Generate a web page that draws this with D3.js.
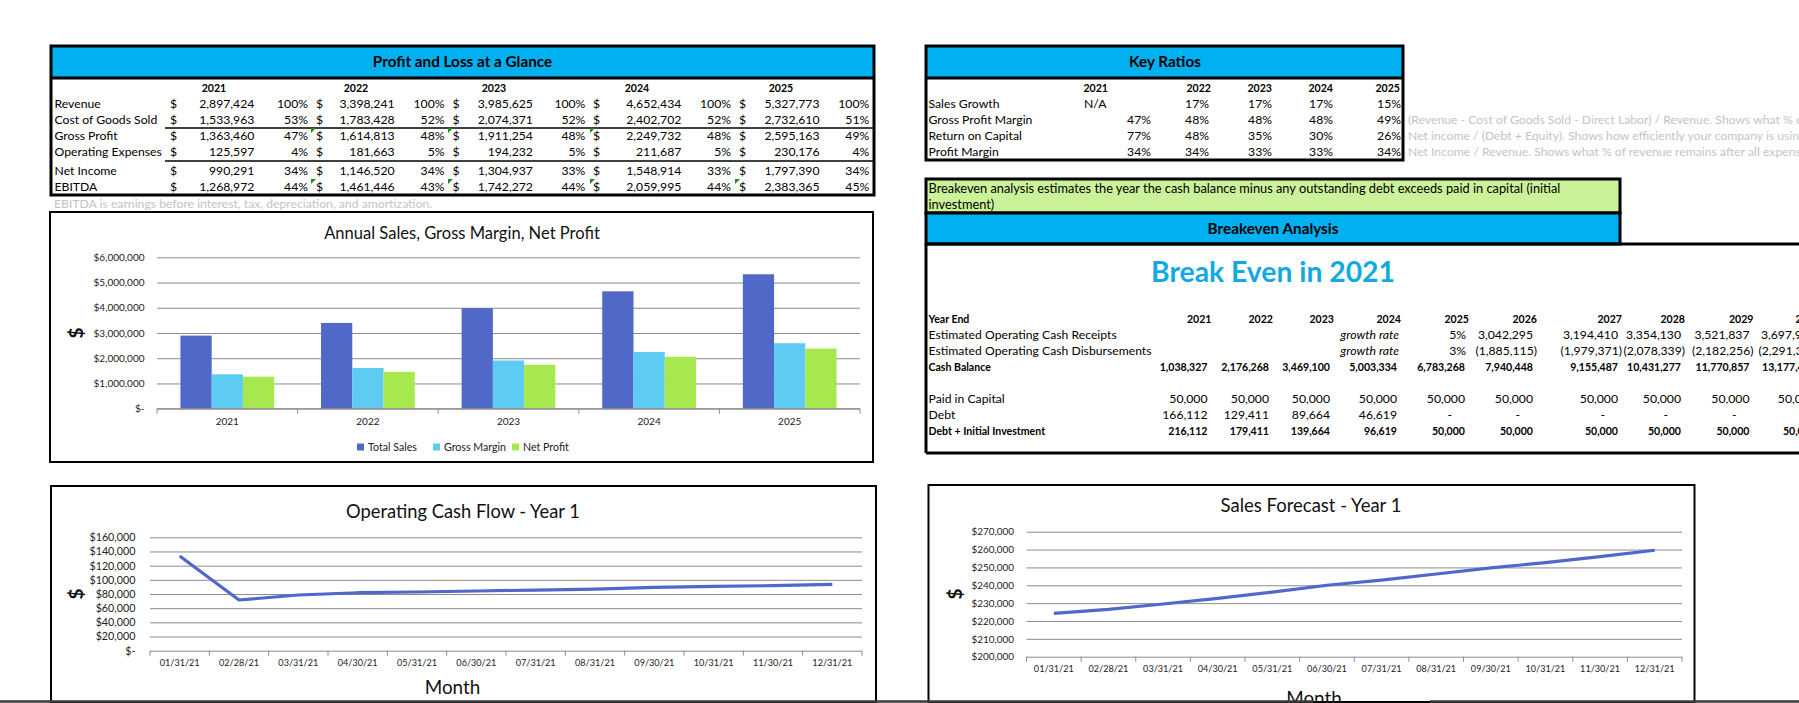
<!DOCTYPE html>
<html><head><meta charset="utf-8">
<script src="https://cdn.jsdelivr.net/npm/d3@7"></script>
<style>
html,body{margin:0;padding:0;background:#fff;overflow:hidden}
svg{display:block}
</style></head><body>
<svg id="c" width="1799" height="703"></svg>
<script>
// ---------------- DATA ----------------
const plYears = ["2021","2022","2023","2024","2025"];
const plLabels = ["Revenue","Cost of Goods Sold","Gross Profit","Operating Expenses","Net Income","EBITDA"];
const revenue     = [2897424, 3398241, 3985625, 4652434, 5327773];
const cogs        = [1533963, 1783428, 2074371, 2402702, 2732610];
const grossProfit = [1363460, 1614813, 1911254, 2249732, 2595163];
const opex        = [125597, 181663, 194232, 211687, 230176];
const netIncome   = [990291, 1146520, 1304937, 1548914, 1797390];
const ebitda      = [1268972, 1461446, 1742272, 2059995, 2383365];
const revenuePct  = [100, 100, 100, 100, 100];
const cogsPct     = [53, 52, 52, 52, 51];
const grossPct    = [47, 48, 48, 48, 49];
const opexPct     = [4, 5, 5, 5, 4];
const netPct      = [34, 34, 33, 33, 34];
const ebitdaPct   = [44, 43, 44, 44, 45];
const ebitdaNote  = "EBITDA is earnings before interest, tax, depreciation, and amortization.";

const ratioYears   = ["2021","2022","2023","2024","2025"];
const ratioLabels  = ["Sales Growth","Gross Profit Margin","Return on Capital","Profit Margin"];
const salesGrowth  = ["N/A","17%","17%","17%","15%"];
const grossMargin  = ["47%","48%","48%","48%","49%"];
const returnOnCap  = ["77%","48%","35%","30%","26%"];
const profitMargin = ["34%","34%","33%","33%","34%"];
const ratioNotes   = ["",
  "(Revenue - Cost of Goods Sold - Direct Labor) / Revenue. Shows what % of revenue remains after direct costs.",
  "Net income / (Debt  + Equity). Shows how efficiently your company is using its capital.",
  "Net Income / Revenue. Shows what % of revenue remains after all expenses."];

const beIntro = ["Breakeven analysis estimates the year the cash balance minus any outstanding debt exceeds paid in capital (initial", "investment)"];
const beHeadline = "Break Even in 2021";
const beYears = ["2021","2022","2023","2024","2025","2026","2027","2028","2029","2030"];
const beLabels = ["Year End","Estimated Operating Cash Receipts","Estimated Operating Cash Disbursements","Cash Balance","","Paid in Capital","Debt","Debt + Initial Investment"];
const beReceipts = [null, null, null, "growth rate", "5%", 3042295, 3194410, 3354130, 3521837, 3697929];
const beDisburse = [null, null, null, "growth rate", "3%", -1885115, -1979371, -2078339, -2182256, -2291369];
const beCash     = [1038327, 2176268, 3469100, 5003334, 6783268, 7940448, 9155487, 10431277, 11770857, 13177417];
const bePaid     = [50000, 50000, 50000, 50000, 50000, 50000, 50000, 50000, 50000, 50000];
const beDebt     = [166112, 129411, 89664, 46619, 0, 0, 0, 0, 0, 0];
const beDebtInit = [216112, 179411, 139664, 96619, 50000, 50000, 50000, 50000, 50000, 50000];

const barSeries = ["Total Sales","Gross Margin","Net Profit"];
const barTicks  = [0, 1000000, 2000000, 3000000, 4000000, 5000000, 6000000];

const months = ["01/31/21","02/28/21","03/31/21","04/30/21","05/31/21","06/30/21","07/31/21","08/31/21","09/30/21","10/31/21","11/30/21","12/31/21"];
const opCashFlow = [133600, 71500, 78600, 81800, 82800, 84200, 85600, 87000, 89400, 90800, 91800, 93600];
const opCashTicks = [0, 20000, 40000, 60000, 80000, 100000, 120000, 140000, 160000];
const salesForecast = [224300, 226500, 229500, 232700, 236200, 240000, 242900, 246300, 249700, 252700, 256000, 259600];
const salesTicks = [200000, 210000, 220000, 230000, 240000, 250000, 260000, 270000];

// ---------------- STYLE ----------------
const FF = "Lato, 'Open Sans', sans-serif";
const BLUE_HDR = "#00B0F0";
const C_SALES = "#5068C8", C_GROSS = "#5DCBF2", C_NET = "#A8E84F", C_LINE = "#4F68CC";
const GRID = "#8C8C8C";
const NOTE = "#C4C4C4";

const svg = d3.select("#c");
svg.append("rect").attr("width",1799).attr("height",703).attr("fill","#fff");

function measure(text, size, weight, style){
  const t = svg.append("text").attr("font-family",FF).attr("font-size",size)
    .attr("font-weight",weight||"normal").attr("font-style",style||"normal").text(text);
  const w = t.node().getComputedTextLength(); t.remove(); return w;
}
function fit(text, target, weight){ return 100*target/measure(text,100,weight); }

const fsSheet = fit("Operating Expenses", 107.4);
const fsBold = fit("10,431,277", 54, "bold");
const fsHdr = fit("Profit and Loss at a Glance", 179.5, "bold");
const fsGreen = fit(beIntro[0], 633);
const fsBig = fit(beHeadline, 244, "bold");
const fsTitle1 = fit("Annual Sales, Gross Margin, Net Profit", 276);
const fsTitle2 = fit("Operating Cash Flow - Year 1", 234);
const fsTitle3 = fit("Sales Forecast - Year 1", 181);
const fsTickBar = fit("$6,000,000", 51);
const fsTickL1 = fit("$160,000", 46);
const fsTickL2 = fit("$270,000", 42.6);
const fsXLab = fit("01/31/21", 40);
const fsLegend = fit("Total Sales", 49);
const fsMonth = fit("Month", 55.7);

function txt(g, x, y, s, o){
  o = o || {};
  const bold = o.weight === "bold";
  return g.append("text").attr("x",x).attr("y",y).attr("dy","0.35em")
    .attr("text-anchor",o.anchor||"start").attr("font-family",FF)
    .attr("font-size",o.size||(bold?fsBold:fsSheet)).attr("font-weight",o.weight||"normal")
    .attr("font-style",o.style||"normal").attr("fill",o.fill||"#000").text(s);
}
const fmtN = d3.format(",");

// ---------------- P&L TABLE ----------------
(function(){
  const g = svg.append("g");
  const L=51, R=874, T=46, B=195, HB=78;
  g.append("rect").attr("x",L).attr("y",T).attr("width",R-L).attr("height",HB-T).attr("fill",BLUE_HDR);
  g.append("rect").attr("x",L).attr("y",T).attr("width",R-L).attr("height",B-T).attr("fill","none").attr("stroke","#000").attr("stroke-width",3);
  g.append("line").attr("x1",L).attr("x2",R).attr("y1",HB).attr("y2",HB).attr("stroke","#000").attr("stroke-width",3);
  txt(g, (L+R)/2, 62, "Profit and Loss at a Glance", {anchor:"middle", weight:"bold", size:fsHdr});
  const yearX = [214, 356, 494, 637, 781];
  plYears.forEach((y,i)=>txt(g, yearX[i], 88, y, {anchor:"middle", weight:"bold"}));
  const rowY = [104, 120, 136, 152, 171, 187];
  const dollarX = [170, 316, 452.5, 593, 739];
  const valX = [254.3, 394.6, 532.9, 681.3, 819.5];
  const pctX = [308, 444.5, 585.4, 731, 869.3];
  const vals = [revenue, cogs, grossProfit, opex, netIncome, ebitda];
  const pcts = [revenuePct, cogsPct, grossPct, opexPct, netPct, ebitdaPct];
  plLabels.forEach((lab,r)=>{
    txt(g, 54.5, rowY[r], lab);
    vals[r].forEach((v,i)=>{
      txt(g, dollarX[i], rowY[r], "$");
      txt(g, valX[i], rowY[r], fmtN(v), {anchor:"end"});
      txt(g, pctX[i], rowY[r], pcts[r][i]+"%", {anchor:"end"});
    });
  });
  g.append("line").attr("x1",165).attr("x2",R).attr("y1",128).attr("y2",128).attr("stroke","#000").attr("stroke-width",1.3);
  g.append("line").attr("x1",165).attr("x2",R).attr("y1",161).attr("y2",161).attr("stroke","#000").attr("stroke-width",1.3);
  // error indicator triangles
  const triX = [311, 448, 590, 735];
  const triRows = [[2,[0,1,2]],[5,[0,1,2,3]]];
  triRows.forEach(([r,cols])=>cols.forEach(c=>{
    const x=triX[c], y=rowY[r]-8;
    g.append("path").attr("d",`M${x},${y}L${x+5},${y}L${x},${y+5}Z`).attr("fill","#1E8C1E");
  }));
  txt(g, 54, 204, ebitdaNote, {fill:NOTE});
})();

// ---------------- KEY RATIOS ----------------
(function(){
  const g = svg.append("g");
  const L=926, R=1403, T=46, B=160, HB=78;
  g.append("rect").attr("x",L).attr("y",T).attr("width",R-L).attr("height",HB-T).attr("fill",BLUE_HDR);
  g.append("rect").attr("x",L).attr("y",T).attr("width",R-L).attr("height",B-T).attr("fill","none").attr("stroke","#000").attr("stroke-width",3);
  g.append("line").attr("x1",L).attr("x2",R).attr("y1",HB).attr("y2",HB).attr("stroke","#000").attr("stroke-width",3);
  txt(g, 1165, 62, "Key Ratios", {anchor:"middle", weight:"bold", size:fsHdr});
  const yearX = [1108, 1211, 1272, 1333, 1400];
  ratioYears.forEach((y,i)=>txt(g, yearX[i], 88, y, {anchor:"end", weight:"bold"}));
  const rowY = [104, 120, 136, 152];
  const valX = [1151, 1209, 1272, 1333, 1401];
  const rows = [salesGrowth, grossMargin, returnOnCap, profitMargin];
  ratioLabels.forEach((lab,r)=>{
    txt(g, 928.5, rowY[r], lab);
    rows[r].forEach((v,i)=>{
      if (v === "N/A") txt(g, 1084, rowY[r], v);
      else txt(g, valX[i], rowY[r], v, {anchor:"end"});
    });
    if (ratioNotes[r]) txt(g, 1408, rowY[r], ratioNotes[r], {fill:NOTE});
  });
})();

// ---------------- BREAKEVEN ----------------
(function(){
  const g = svg.append("g");
  g.append("rect").attr("x",926).attr("y",179).attr("width",694).attr("height",34).attr("fill","#CCF299").attr("stroke","#000").attr("stroke-width",3);
  txt(g, 928.5, 188.5, beIntro[0], {size:fsGreen});
  txt(g, 928.5, 204.5, beIntro[1], {size:fsGreen});
  g.append("rect").attr("x",926).attr("y",213).attr("width",694).attr("height",31).attr("fill",BLUE_HDR).attr("stroke","#000").attr("stroke-width",3);
  txt(g, 1273, 229, "Breakeven Analysis", {anchor:"middle", weight:"bold", size:fsHdr});
  g.append("line").attr("x1",926).attr("x2",1799).attr("y1",244).attr("y2",244).attr("stroke","#000").attr("stroke-width",3);
  g.append("line").attr("x1",926).attr("x2",1799).attr("y1",453).attr("y2",453).attr("stroke","#000").attr("stroke-width",3);
  g.append("line").attr("x1",926).attr("x2",926).attr("y1",244).attr("y2",453).attr("stroke","#000").attr("stroke-width",3);
  txt(g, 1273, 272, beHeadline, {anchor:"middle", weight:"bold", size:fsBig, fill:"#12A9E3"});
  const colR = [1211.5, 1273, 1334, 1401, 1469, 1537, 1622, 1685, 1753.5, 1820];
  const rowY = [319, 335, 351, 367, 383, 399, 415, 431];
  const bold = [true,false,false,true,false,false,false,true];
  beLabels.forEach((lab,r)=>{ if(lab) txt(g, 928.5, rowY[r], lab, {weight: bold[r]?"bold":"normal"}); });
  function cell(r, i, v){
    const o = {anchor:"end", weight: bold[r]?"bold":"normal"};
    if (v === null) return;
    if (v === "growth rate") { o.style = "italic"; txt(g, colR[i]-2, rowY[r], v, o); return; }
    if (typeof v === "string") { txt(g, colR[i]-3, rowY[r], v, o); return; }
    if (v === 0) { txt(g, colR[i]-17, rowY[r], "-", o); return; }
    if (v < 0) { txt(g, colR[i], rowY[r], "("+fmtN(-v)+")", o); return; }
    txt(g, colR[i]-4, rowY[r], fmtN(v), o);
  }
  beYears.forEach((y,i)=>txt(g, colR[i], rowY[0], y, {anchor:"end", weight:"bold"}));
  const data = [null, beReceipts, beDisburse, beCash, null, bePaid, beDebt, beDebtInit];
  data.forEach((arr,r)=>{ if(arr) arr.forEach((v,i)=>cell(r,i,v)); });
})();

// ---------------- helper for chart axes ----------------
function moneyFmt(v){ return v===0 ? "$-" : "$"+fmtN(v); }

function yAxisTitle(g, x, y){
  g.append("text").attr("transform",`translate(${x},${y}) rotate(-90)`).attr("text-anchor","middle").attr("dy","0.35em")
   .attr("font-family",FF).attr("font-size",19).attr("font-weight","bold").attr("fill","#111").text("$");
}

// ---------------- BAR CHART ----------------
(function(){
  const g = svg.append("g");
  g.append("rect").attr("x",50).attr("y",212).attr("width",823).attr("height",250).attr("fill","#fff").attr("stroke","#000").attr("stroke-width",2);
  g.append("text").attr("x",462).attr("y",233).attr("dy","0.35em").attr("text-anchor","middle").attr("font-family",FF)
    .attr("font-size",fsTitle1).attr("fill","#111").text("Annual Sales, Gross Margin, Net Profit");
  const x0=157, x1=860, yb=408.7, yt=257.3;
  const x = d3.scaleBand().domain(plYears).range([x0,x1]).padding(0);
  const gap = x.bandwidth()*1.5/4.5;
  const xs = d3.scaleBand().domain(barSeries).range([gap/2, x.bandwidth()-gap/2]).padding(0);
  const y = d3.scaleLinear().domain([0,6000000]).range([yb,yt]);
  g.append("g").attr("transform",`translate(${x0},0)`)
    .call(d3.axisLeft(y).tickValues(barTicks).tickSize(-(x1-x0)).tickFormat(""))
    .call(a=>{a.select(".domain").remove(); a.selectAll("line").attr("stroke",GRID).attr("stroke-width",1);});
  g.append("g").attr("transform",`translate(${x0},0)`)
    .call(d3.axisLeft(y).tickValues(barTicks).tickSize(0).tickPadding(12.5).tickFormat(moneyFmt))
    .call(a=>{a.select(".domain").remove(); a.selectAll("text").attr("font-family",FF).attr("font-size",fsTickBar).attr("fill","#222");});
  const series = [revenue, grossProfit, ebitda];
  const colors = [C_SALES, C_GROSS, C_NET];
  series.forEach((arr,s)=>{
    g.append("g").selectAll("rect").data(arr).join("rect")
      .attr("x",(d,i)=>x(plYears[i])+xs(barSeries[s]))
      .attr("width",xs.bandwidth())
      .attr("y",d=>y(d)).attr("height",d=>yb-y(d)).attr("fill",colors[s]);
  });
  g.append("line").attr("x1",x0).attr("x2",x1).attr("y1",yb).attr("y2",yb).attr("stroke",GRID);
  const bounds = plYears.map(d=>x(d)).concat([x1]);
  g.selectAll(".tk").data(bounds).join("line").attr("x1",d=>d).attr("x2",d=>d).attr("y1",yb).attr("y2",yb+5).attr("stroke",GRID);
  g.append("g").attr("transform",`translate(0,${yb})`)
    .call(d3.axisBottom(x).tickSize(0).tickPadding(9))
    .call(a=>{a.select(".domain").remove(); a.selectAll("text").attr("font-family",FF).attr("font-size",fsTickBar).attr("fill","#222");});
  const lx = [357, 433, 512];
  barSeries.forEach((s,i)=>{
    g.append("rect").attr("x",lx[i]).attr("y",443.5).attr("width",7).attr("height",7).attr("fill",colors[i]);
    g.append("text").attr("x",lx[i]+11).attr("y",447).attr("dy","0.35em").attr("font-family",FF).attr("font-size",fsLegend).attr("fill","#222").text(s);
  });
  yAxisTitle(g, 76, 333);
})();

// ---------------- LINE CHARTS ----------------
function lineChart(o){
  const g = svg.append("g");
  g.append("rect").attr("x",o.box[0]).attr("y",o.box[1]).attr("width",o.box[2]).attr("height",o.box[3]).attr("fill","#fff").attr("stroke","#000").attr("stroke-width",2);
  g.append("text").attr("x",o.titleX).attr("y",o.titleY).attr("dy","0.35em").attr("text-anchor","middle").attr("font-family",FF)
    .attr("font-size",o.titleSize).attr("fill","#111").text(o.title);
  const x = d3.scaleBand().domain(months).range([o.x0,o.x1]).padding(0);
  const y = d3.scaleLinear().domain(o.domain).range([o.yb,o.yt]);
  g.append("g").attr("transform",`translate(${o.x0},0)`)
    .call(d3.axisLeft(y).tickValues(o.ticks).tickSize(-(o.x1-o.x0)).tickFormat(""))
    .call(a=>{a.select(".domain").remove(); a.selectAll("line").attr("stroke",GRID).attr("stroke-width",1);});
  g.append("g").attr("transform",`translate(${o.x0},0)`)
    .call(d3.axisLeft(y).tickValues(o.ticks).tickSize(0).tickPadding(o.x0-o.labelEnd).tickFormat(moneyFmt))
    .call(a=>{a.select(".domain").remove(); a.selectAll("text").attr("font-family",FF).attr("font-size",o.tickSize).attr("fill","#222");});
  const bounds = months.map(d=>x(d)).concat([o.x1]);
  g.selectAll(".tk").data(bounds).join("line").attr("x1",d=>d).attr("x2",d=>d).attr("y1",o.yb).attr("y2",o.yb+5).attr("stroke",GRID);
  g.append("g").attr("transform",`translate(0,${o.yb})`)
    .call(d3.axisBottom(x).tickSize(0).tickPadding(o.xlabY-o.yb-5))
    .call(a=>{a.select(".domain").remove(); a.selectAll("text").attr("font-family",FF).attr("font-size",fsXLab).attr("fill","#222");});
  const line = d3.line().x((d,i)=>x(months[i])+x.bandwidth()/2).y(d=>y(d));
  g.append("path").datum(o.data).attr("d",line).attr("fill","none").attr("stroke",C_LINE).attr("stroke-width",3.2).attr("stroke-linejoin","round");
  g.append("text").attr("x",o.monthX).attr("y",o.monthY).attr("dy","0.35em").attr("text-anchor","middle").attr("font-family",FF)
    .attr("font-size",fsMonth).attr("fill","#111").text("Month");
  yAxisTitle(g, o.dollarX, o.dollarY);
}
lineChart({box:[51,486,825,216], title:"Operating Cash Flow - Year 1", titleX:463, titleY:512, titleSize:fsTitle2,
  x0:150, x1:862, yb:650.7, yt:537.3, domain:[0,160000], ticks:opCashTicks, labelEnd:135.4, tickSize:fsTickL1,
  xlabY:665, data:opCashFlow, monthX:452.5, monthY:687, dollarX:76, dollarY:594});
lineChart({box:[928.5,485,766,217], title:"Sales Forecast - Year 1", titleX:1311, titleY:506, titleSize:fsTitle3,
  x0:1026.5, x1:1682, yb:656.7, yt:531.7, domain:[200000,270000], ticks:salesTicks, labelEnd:1014, tickSize:fsTickL2,
  xlabY:671, data:salesForecast, monthX:1314, monthY:698, dollarX:955, dollarY:594});

svg.append("line").attr("x1",0).attr("x2",1313).attr("y1",701.5).attr("y2",701.5).attr("stroke","#3A3A3A").attr("stroke-width",2.5);
svg.append("line").attr("x1",1430).attr("x2",1799).attr("y1",701.5).attr("y2",701.5).attr("stroke","#3A3A3A").attr("stroke-width",2.5);
</script>
</body></html>
